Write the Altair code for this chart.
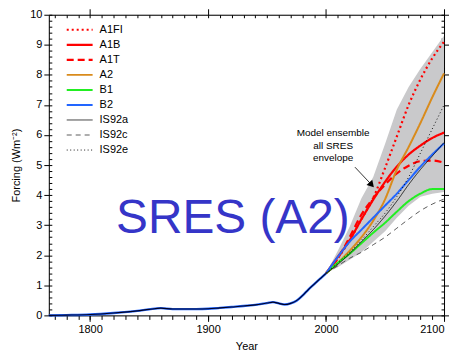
import altair as alt
import pandas as pd

# ---------------- data ----------------
hist_years = [1765, 1780, 1800, 1820, 1840, 1850, 1860, 1870, 1880, 1890, 1900, 1910, 1920,
              1930, 1940, 1950, 1955, 1960, 1965, 1970, 1975, 1980, 1985, 1990, 1995, 2000]
hist_vals = [0.0, 0.01, 0.03, 0.08, 0.15, 0.2, 0.24, 0.21, 0.21, 0.21, 0.22, 0.25, 0.28,
             0.31, 0.35, 0.41, 0.44, 0.40, 0.36, 0.40, 0.49, 0.66, 0.86, 1.04, 1.22, 1.40]

scen_years = [2000, 2010, 2020, 2030, 2040, 2050, 2060, 2070, 2080, 2090, 2100]
A1FI = [1.4, 1.9, 2.5, 3.2, 3.9, 4.9, 5.95, 7.0, 7.85, 8.55, 9.1]
A1B = [1.4, 1.95, 2.5, 3.2, 3.85, 4.44, 4.95, 5.35, 5.65, 5.9, 6.08]
A1T = [1.4, 1.9, 2.6, 3.35, 3.9, 4.35, 4.72, 4.98, 5.13, 5.15, 5.08]
A2 = [1.4, 1.75, 2.15, 2.6, 3.15, 3.86, 4.85, 5.6, 6.4, 7.25, 8.05]
B1 = [1.4, 1.75, 2.05, 2.4, 2.75, 3.08, 3.45, 3.8, 4.05, 4.2, 4.2]
B2 = [1.4, 1.95, 2.45, 2.85, 3.25, 3.65, 4.05, 4.5, 4.95, 5.35, 5.72]
IS92a = [1.4, 1.7, 2.05, 2.45, 2.85, 3.3, 3.8, 4.35, 4.85, 5.3, 5.75]
IS92c = [1.4, 1.65, 1.9, 2.1, 2.35, 2.6, 2.9, 3.2, 3.48, 3.7, 3.87]
IS92e = [1.4, 1.75, 2.1, 2.5, 2.95, 3.4, 3.95, 4.6, 5.4, 6.2, 7.0]
env_lo = [1.4, 1.6, 1.85, 2.1, 2.45, 2.8, 3.25, 3.65, 3.95, 4.05, 4.1]
env_hi = [1.4, 2.15, 2.95, 3.9, 4.6, 5.7, 6.85, 7.6, 8.2, 8.75, 9.3]

series_names = ["A1FI", "A1B", "A1T", "A2", "B1", "B2", "IS92a", "IS92c", "IS92e"]
series_values = [A1FI, A1B, A1T, A2, B1, B2, IS92a, IS92c, IS92e]
series_colors = ["#ff0000", "#ff0000", "#ff0000", "#d98b1c", "#22ee22", "#2266ff",
                 "#000000", "#333333", "#000000"]
series_dash = [[2, 3], [1, 0], [7, 4], [1, 0], [1, 0], [1, 0], [1, 0], [5, 4], [1, 2.5]]
series_width = [2.2, 2.2, 2.2, 2.0, 2.0, 2.0, 0.8, 0.8, 0.9]
legend_rows = [9.5, 9.0, 8.5, 8.0, 7.5, 7.0, 6.5, 6.0, 5.5]

x_major = [1800, 1900, 2000, 2100]
x_minor = list(range(1770, 2101, 10))
y_major = list(range(0, 11))
y_minor = [round(0.2 * i, 1) for i in range(51)]

annot_lines = ["Model ensemble", "all SRES", "envelope"]
annot_x = [2006, 2006, 2006]
annot_y = [6.08, 5.65, 5.22]
arrow_x = [2024.5, 2038.0]
arrow_y = [4.93, 4.37]
big_label = "SRES (A2)"

# ---------------- tables ----------------
hist_df = pd.DataFrame({"year": hist_years, "f": hist_vals})
scen_df = pd.DataFrame([
    {"series": n, "year": y, "f": v}
    for n, vals in zip(series_names, series_values)
    for y, v in zip(scen_years, vals)
])
env_df = pd.DataFrame({"year": scen_years, "lo": env_lo, "hi": env_hi})
leg_df = pd.DataFrame({"series": series_names, "ly": legend_rows})
ann_df = pd.DataFrame({"t": annot_lines, "year": annot_x, "f": annot_y})
arr_df = pd.DataFrame({"year": arrow_x, "f": arrow_y})
tip_df = pd.DataFrame({"year": [arrow_x[1]], "f": [arrow_y[1]]})
big_df = pd.DataFrame({"t": [big_label], "year": [1921], "f": [2.75]})

FONT = "Liberation Sans"
xs = alt.Scale(domain=[1765, 2100], nice=False, zero=False)
ys = alt.Scale(domain=[0, 10], nice=False, zero=False)
cs = alt.Scale(domain=series_names, range=series_colors)
ds = alt.Scale(type="ordinal", domain=series_names, range=series_dash)
ws = alt.Scale(type="ordinal", domain=series_names, range=series_width)

base_ax = dict(grid=False, domainColor="black", tickColor="black", labelColor="black",
               titleColor="black", labelFont=FONT, titleFont=FONT, labelFontSize=11,
               titleFontSize=11, titleFontWeight="normal", domainWidth=1, tickWidth=1)

ax_xb = alt.Axis(orient="bottom", values=x_major, tickSize=6, labelPadding=2, format="d",
                 title="Year", titlePadding=6, **base_ax)
ax_xb2 = alt.Axis(orient="bottom", values=x_minor, tickSize=4, labels=False, domain=False,
                  title="", **base_ax)
ax_xt = alt.Axis(orient="top", values=x_major, tickSize=6, labels=False, title="", **base_ax)
ax_xt2 = alt.Axis(orient="top", offset=-3, values=x_minor, tickSize=3, labels=False,
                  domain=False, title="", **base_ax)
ax_yl = alt.Axis(orient="left", values=y_major, tickSize=5, labelPadding=2,
                 title="Forcing (Wm⁻²)", titlePadding=8, **base_ax)
ax_yl2 = alt.Axis(orient="left", offset=-3, values=y_minor, tickSize=3, labels=False,
                  domain=False, title="", **base_ax)
ax_yr = alt.Axis(orient="right", values=y_major, tickSize=5, labels=False, title="", **base_ax)
ax_yr2 = alt.Axis(orient="right", offset=-3, values=y_minor, tickSize=3, labels=False,
                  domain=False, title="", **base_ax)


def X(field="year", axis=None):
    if axis is None:
        return alt.X(f"{field}:Q", scale=xs, axis=None)
    return alt.X(f"{field}:Q", scale=xs, axis=axis)


def Y(field="f", axis=None):
    if axis is None:
        return alt.Y(f"{field}:Q", scale=ys, axis=None)
    return alt.Y(f"{field}:Q", scale=ys, axis=axis)


envelope = alt.Chart(env_df).mark_area(color="#c9c9cb", opacity=1).encode(
    x=X(), y=Y("lo"), y2="hi:Q")

lines = alt.Chart(scen_df).mark_line(interpolate="monotone").encode(
    x=X(), y=Y(),
    color=alt.Color("series:N", scale=cs, legend=None),
    strokeDash=alt.StrokeDash("series:N", scale=ds, legend=None),
    strokeWidth=alt.StrokeWidth("series:N", scale=ws, legend=None),
    detail="series:N",
)

hist_blue = alt.Chart(hist_df).mark_line(color="#2266ff", strokeWidth=2.4,
                                        interpolate="monotone").encode(x=X(), y=Y())
hist_black = alt.Chart(hist_df).mark_line(color="#000022", strokeWidth=1.1,
                                         interpolate="monotone").encode(x=X(), y=Y())

leg_rules = alt.Chart(leg_df).mark_rule().encode(
    x=alt.value(18), x2=alt.value(44), y=Y("ly"),
    color=alt.Color("series:N", scale=cs, legend=None),
    strokeDash=alt.StrokeDash("series:N", scale=ds, legend=None),
    strokeWidth=alt.StrokeWidth("series:N", scale=ws, legend=None),
)
leg_text = alt.Chart(leg_df).mark_text(align="left", baseline="middle", font=FONT,
                                       fontSize=11, color="black").encode(
    x=alt.value(51), y=Y("ly"), text="series:N")

ann = alt.Chart(ann_df).mark_text(align="center", baseline="middle", font=FONT,
                                  fontSize=10, color="black").encode(
    x=X(), y=Y(), text="t:N")
arrow = alt.Chart(arr_df).mark_line(color="black", strokeWidth=0.8).encode(x=X(), y=Y())
tip = alt.Chart(tip_df).mark_point(shape="triangle", filled=True, size=60, angle=138,
                                   color="black", opacity=1).encode(x=X(), y=Y())

big = alt.Chart(big_df).mark_text(align="center", baseline="alphabetic", font=FONT,
                                  fontSize=48, color="#3535c8").encode(
    x=X(), y=Y(), text="t:N")


def axis_layer(xa, ya):
    return alt.Chart(hist_df).mark_point(opacity=0).encode(x=X(axis=xa), y=Y(axis=ya))


chart = alt.layer(
    envelope, hist_blue, hist_black, lines, leg_rules, leg_text, ann, arrow, tip, big,
    axis_layer(ax_xb, ax_yl), axis_layer(ax_xb2, ax_yl2),
    axis_layer(ax_xt, ax_yr), axis_layer(ax_xt2, ax_yr2),
).resolve_axis(x="independent", y="independent").properties(
    width=397, height=302,
    autosize=alt.AutoSizeParams(type="none"),
    padding={"left": 41, "top": 6, "right": 5, "bottom": 35},
).configure_view(stroke=None).configure(background="white")

chart.save("out.html", embed_options={"renderer": "svg", "actions": False})
